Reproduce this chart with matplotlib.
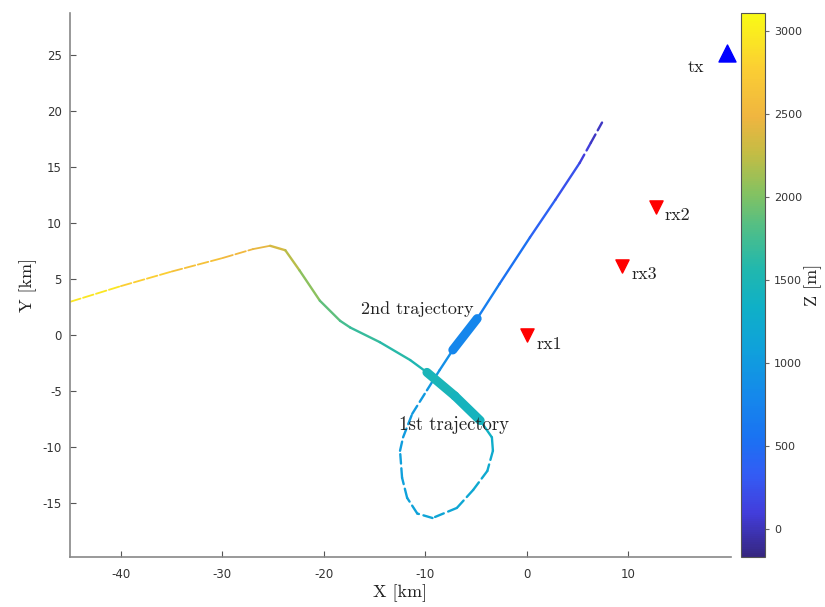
import numpy as np
import matplotlib
matplotlib.use("Agg")
import matplotlib.pyplot as plt
from matplotlib.collections import LineCollection
from matplotlib.colors import LinearSegmentedColormap, Normalize

plt.rcParams["axes.unicode_minus"] = False

# trajectory: x [km], y [km], altitude z [m]
traj_x = [-45, -40, -35, -30, -27, -25.3, -23.8, -22.4, -20.4, -18.4, -17.4, -14.5, -11.5, -9.85,
          -7.1, -4.6, -3.45, -3.35, -3.9, -5.3, -6.9, -9.3, -10.8, -11.8, -12.3, -12.5, -12.2,
          -11.3, -9.85, -8.6, -7.3, -4.9, -2.7, 0.3, 2.8, 5.2, 6.3, 7.4]
traj_y = [3.0, 4.4, 5.7, 6.9, 7.7, 8.0, 7.6, 5.8, 3.1, 1.3, 0.7, -0.6, -2.2, -3.3,
          -5.4, -7.6, -9.1, -10.3, -12.1, -13.8, -15.4, -16.3, -15.9, -14.5, -12.7, -10.3, -9.1,
          -7.0, -4.9, -3.1, -1.3, 1.5, 4.6, 8.75, 12.1, 15.4, 17.2, 19.0]
traj_z = [3050, 2850, 2680, 2550, 2470, 2400, 2300, 2150, 1950, 1800, 1720, 1640, 1560, 1500,
          1450, 1400, 1320, 1270, 1230, 1200, 1170, 1140, 1110, 1090, 1070, 1050, 1030,
          1010, 990, 960, 800, 740, 620, 460, 320, 160, 60, 0]

# thick parts of the track (slow segments)
thick1_x = [-9.85, -7.1, -4.6]
thick1_y = [-3.3, -5.4, -7.6]
thick1_z = [1500, 1450, 1400]
thick2_x = [-7.3, -4.9]
thick2_y = [-1.3, 1.5]
thick2_z = [800, 740]

rx_names = ["rx1", "rx2", "rx3"]
rx_x = [0.0, 12.7, 9.4]
rx_y = [0.0, 11.5, 6.2]
tx_x, tx_y = 19.7, 25.2

z_min, z_max = -170, 3110

parula = LinearSegmentedColormap.from_list("parula", [
    (0.00, (0.210, 0.150, 0.500)),
    (0.08, (0.260, 0.240, 0.860)),
    (0.15, (0.200, 0.360, 0.960)),
    (0.22, (0.100, 0.450, 0.950)),
    (0.30, (0.080, 0.540, 0.920)),
    (0.38, (0.060, 0.630, 0.860)),
    (0.46, (0.060, 0.690, 0.780)),
    (0.53, (0.130, 0.720, 0.680)),
    (0.60, (0.300, 0.745, 0.540)),
    (0.67, (0.520, 0.760, 0.380)),
    (0.74, (0.760, 0.740, 0.270)),
    (0.81, (0.940, 0.710, 0.250)),
    (0.90, (0.985, 0.810, 0.200)),
    (1.00, (0.977, 0.984, 0.081)),
])
norm = Normalize(z_min, z_max)


def segs(x, y, z):
    pts = np.column_stack([x, y])
    s = np.stack([pts[:-1], pts[1:]], axis=1)
    zc = (np.array(z[:-1]) + np.array(z[1:])) / 2
    return s, zc


fig = plt.figure(figsize=(8.25, 6.07), dpi=100)
ax = fig.add_axes([0.085, 0.082, 0.801, 0.897])
cax = fig.add_axes([0.898, 0.082, 0.029, 0.897])

s, zc = segs(traj_x, traj_y, traj_z)
styles = []
for i in range(len(s)):
    if 17 <= i <= 28 or i >= 35:
        styles.append((0, (4, 2)))
    elif i <= 3:
        styles.append((0, (6, 1.5)))
    else:
        styles.append("solid")
widths = [1.3 if i <= 4 else 1.7 for i in range(len(s))]
lc = LineCollection(s, cmap=parula, norm=norm, linewidths=widths, linestyles=styles, capstyle="round")
lc.set_array(zc)
ax.add_collection(lc)

for tx, ty, tz in [(thick1_x, thick1_y, thick1_z), (thick2_x, thick2_y, thick2_z)]:
    s2, zc2 = segs(tx, ty, tz)
    lc2 = LineCollection(s2, cmap=parula, norm=norm, linewidths=6.5, capstyle="round")
    lc2.set_array(zc2)
    ax.add_collection(lc2)

serif = "cmr10"
ax.scatter(rx_x, rx_y, marker="v", s=90, color="red", zorder=5)
for n, x, y in zip(rx_names, rx_x, rx_y):
    ax.text(x + 0.9, y - 0.1, n, family=serif, fontsize=13, ha="left", va="top", color="#222222")
ax.scatter([tx_x], [tx_y], marker="^", s=150, color="blue", zorder=5, clip_on=False)
ax.text(tx_x - 2.2, tx_y - 0.6, "tx", family=serif, fontsize=13, ha="right", va="top", color="#222222")

ax.text(-16.3, 1.6, "2nd trajectory", family=serif, fontsize=13, ha="left", va="bottom", color="#222222")
ax.text(-12.6, -7.2, "1st trajectory", family=serif, fontsize=13.5, ha="left", va="top", color="#222222")

ax.set_xlim(-45, 20.1)
ax.set_ylim(-19.8, 28.8)
ax.set_xticks([-40, -30, -20, -10, 0, 10])
ax.set_yticks([-15, -10, -5, 0, 5, 10, 15, 20, 25])
ax.tick_params(direction="in", length=4, labelsize=8.5, colors="#555555", labelcolor="#333333")
ax.tick_params(axis="x", pad=8)
ax.tick_params(axis="y", pad=6)
for side in ["top", "right"]:
    ax.spines[side].set_visible(False)
for side in ["left", "bottom"]:
    ax.spines[side].set_color("#888888")
    ax.spines[side].set_linewidth(1.2)
ax.set_xlabel("X [km]", family=serif, fontsize=13, color="#222222", labelpad=2)
ax.set_ylabel("Y [km]", family=serif, fontsize=13, color="#222222")

cb = fig.colorbar(plt.cm.ScalarMappable(norm=norm, cmap=parula), cax=cax)
cb.set_ticks([0, 500, 1000, 1500, 2000, 2500, 3000])
cb.ax.tick_params(length=3, labelsize=8, colors="#666666", labelcolor="#333333")
cb.outline.set_edgecolor("#555555")
cb.set_label("Z [m]", family=serif, fontsize=13, color="#222222", labelpad=2)

fig.savefig("out.png", dpi=100)
